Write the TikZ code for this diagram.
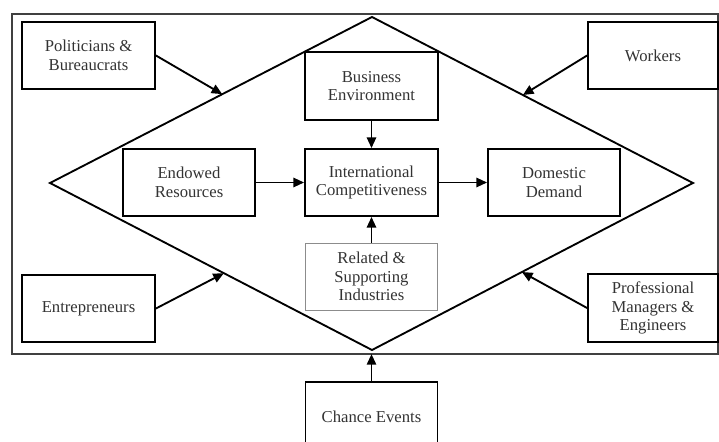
\documentclass[tikz,border=0pt]{standalone}
\usepackage{fontspec}
\setmainfont{Liberation Serif}
\usetikzlibrary{arrows.meta,calc}
\begin{document}
\begin{tikzpicture}[x=0.75pt,y=-0.75pt,
  box/.style={draw=black,line width=1.4pt,fill=white,align=center,text=black!80,
    font=\fontsize{12.5}{14}\selectfont,inner sep=0pt},
  softbox/.style={box,draw=black!45,line width=0.6pt},
  arr/.style={line width=1.4pt,-{Triangle[length=8pt,width=7pt]}}]
\useasboundingbox (0,0) rectangle (719,442);
% frame
\draw[line width=0.8pt,draw=black!75] (12,14) rectangle (718,354);
% diamond
\coordinate (T) at (372,17);
\coordinate (L) at (50,183);
\coordinate (R) at (693,183);
\coordinate (B) at (372,350);
\draw[line width=1.4pt,line join=miter] (T) -- (R) -- (B) -- (L) -- cycle;
% boxes
\node[box,minimum width=0.75*133pt,minimum height=0.75*67pt] (pol) at (88.5,55.5) {Politicians \&\\Bureaucrats};
\node[box,minimum width=0.75*130pt,minimum height=0.75*67pt] (wor) at (653,55.5) {Workers};
\node[box,minimum width=0.75*133pt,minimum height=0.75*67pt] (ent) at (88.5,308.5) {Entrepreneurs};
\node[box,minimum width=0.75*130pt,minimum height=0.75*68pt] (pro) at (653,308) {Professional\\Managers \&\\Engineers};
\node[box,minimum width=0.75*133pt,minimum height=0.75*68pt] (bus) at (371.5,86) {Business\\Environment};
\node[box,minimum width=0.75*132pt,minimum height=0.75*67pt] (end) at (189,182.5) {Endowed\\Resources};
\node[box,minimum width=0.75*133pt,minimum height=0.75*67pt] (int) at (371.5,182.5) {International\\Competitiveness};
\node[box,minimum width=0.75*132pt,minimum height=0.75*67pt] (dom) at (554,182.5) {Domestic\\Demand};
\node[softbox,minimum width=0.75*132pt,minimum height=0.75*67pt] (rel) at (371.5,276.5) {Related \&\\Supporting\\Industries};
\node[box,minimum width=0.75*132pt,minimum height=0.75*70pt] (cha) at (371.5,417) {Chance Events};
% edge targets
\coordinate (pT) at ($(L)!0.535!(T)$);
\coordinate (wT) at ($(T)!0.47!(R)$);
\coordinate (eT) at ($(L)!0.54!(B)$);
\coordinate (rT) at ($(B)!0.467!(R)$);
% arrows
\draw[arr] (pol.east) -- (pT);
\draw[arr] (wor.west) -- (wT);
\draw[arr] (ent.east) -- (eT);
\draw[arr] (pro.west) -- (rT);
\draw[arr] (end) -- (int);
\draw[arr] (int) -- (dom);
\draw[arr] (bus) -- (int);
\draw[arr] (rel) -- (int);
\draw[arr] (cha.north) -- ++(0,-27);
\end{tikzpicture}
\end{document}
